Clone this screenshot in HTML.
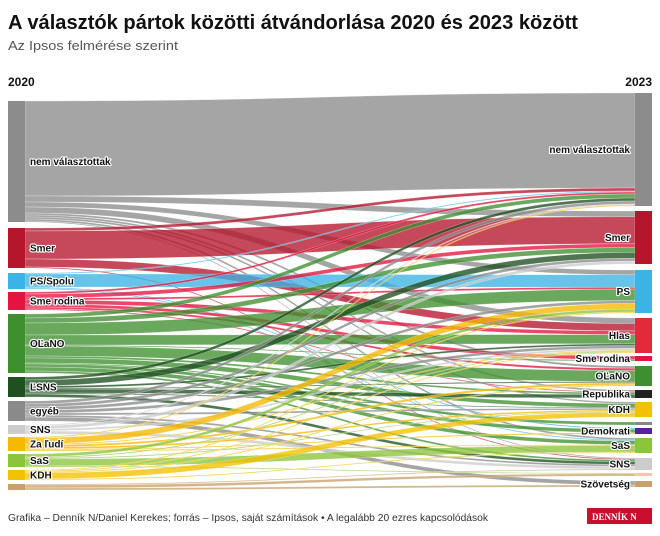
<!DOCTYPE html>
<html><head><meta charset="utf-8"><style>
body{margin:0;background:#fff;width:660px;height:536px;overflow:hidden}
svg{display:block;font-family:"Liberation Sans",sans-serif}
.lb{font-size:10px;font-weight:bold;fill:#111;stroke:#fff;stroke-width:2.2px;paint-order:stroke;stroke-linejoin:round}
</style></head><body>
<svg id="s" width="660" height="536" viewBox="0 0 660 536">
<text x="8" y="29" font-size="20" font-weight="bold" fill="#111" textLength="570" lengthAdjust="spacingAndGlyphs">A választók pártok közötti átvándorlása 2020 és 2023 között</text>
<text x="8" y="50" font-size="13" fill="#555" textLength="170" lengthAdjust="spacingAndGlyphs">Az Ipsos felmérése szerint</text>
<text x="8" y="86" font-size="12" font-weight="bold" fill="#111">2020</text>
<text x="652" y="86" font-size="12" font-weight="bold" fill="#111" text-anchor="end">2023</text>
<g id="flows"></g><g id="nodes"></g>
<text x="8" y="521" font-size="10" fill="#333" textLength="480" lengthAdjust="spacingAndGlyphs">Grafika – Denník N/Daniel Kerekes; forrás – Ipsos, saját számítások • A legalább 20 ezres kapcsolódások</text>
<rect x="587" y="508" width="65" height="16" fill="#c8102e"/>
<text x="592" y="520" font-size="9" font-weight="bold" fill="#fff" font-family="Liberation Serif,serif">DENNÍK N</text>
</svg>
<script>
const L=[["nem választottak",101,222,"#8c8c8c"],["Smer",228,268,"#b5162b"],["PS/Spolu",273,289,"#3bb4e5"],["Sme rodina",292,310,"#e4133f"],["OĽaNO",314,373,"#3f8f30"],["ĽSNS",377,397,"#1e5020"],["egyéb",401,421,"#8a8a8a"],["SNS",425,434,"#cccccc"],["Za ľudí",437,451,"#f6b800"],["SaS",454,467,"#8cc43c"],["KDH",470,480,"#f2c200"],["",484,490,"#c9a06a"]];
const R=[["nem választottak",93,206,"#8c8c8c"],["Smer",211,264,"#b5162b"],["PS",270,313,"#3bb4e5"],["Hlas",318,353,"#e32a3a"],["Sme rodina",356,361,"#e4133f"],["OĽaNO",366,386,"#3f8f30"],["Republika",390,398,"#222"],["KDH",402,417,"#f2c200"],["",422,425,"#888"],["Demokrati",428,434,"#5b1fa0"],["SaS",438,453,"#8cc43c"],["SNS",458,470,"#cccccc"],["",473,476,"#f4c8a8"],["Szövetség",481,487,"#c9a06a"]];
const F=[[0,0,95],[0,1,6],[0,2,5],[0,3,6],[0,5,2],[0,6,2],[0,7,2],[0,10,2],[0,11,1],
[1,0,3],[1,1,28],[1,3,8],[1,11,1],
[2,0,1],[2,2,13],[2,9,1],[2,10,1],
[3,0,2],[3,1,4],[3,2,2],[3,3,4],[3,4,3],[3,5,2],[3,6,1],
[4,0,4],[4,1,5],[4,2,12],[4,3,10],[4,4,1],[4,5,10],[4,6,2],[4,7,5],[4,8,1],[4,9,3],[4,10,4],[4,11,2],
[5,0,3],[5,1,6],[5,3,2],[5,5,1],[5,6,4],[5,7,1],[5,11,3],
[6,0,3],[6,1,3],[6,2,3],[6,3,3],[6,7,2],[6,11,2],[6,13,4],
[7,0,1],[7,1,3],[7,3,2],[7,11,3],
[8,0,1],[8,2,6],[8,3,1],[8,5,2],[8,7,2],[8,9,1],[8,10,1],
[9,2,3],[9,3,1],[9,7,1],[9,10,7],[9,12,1],
[10,2,1],[10,3,1],[10,5,1],[10,7,6],[10,10,1],
[11,11,1],[11,12,3],[11,13,2]];
const sumL=L.map(()=>0),sumR=R.map(()=>0);
F.forEach(f=>{sumL[f[0]]+=f[2];sumR[f[1]]+=f[2];});
const offL=L.map(n=>n[1]),offR=R.map(n=>n[1]);
const seg=F.map(()=>({}));
// source order by target
F.map((f,i)=>i).sort((a,b)=>F[a][0]-F[b][0]||F[a][1]-F[b][1]).forEach(i=>{const f=F[i],n=L[f[0]];const h=f[2]*(n[2]-n[1])/sumL[f[0]];seg[i].y0=offL[f[0]];seg[i].y1=offL[f[0]]+h;offL[f[0]]+=h;});
F.map((f,i)=>i).sort((a,b)=>F[a][1]-F[b][1]||F[a][0]-F[b][0]).forEach(i=>{const f=F[i],n=R[f[1]];const h=f[2]*(n[2]-n[1])/sumR[f[1]];seg[i].z0=offR[f[1]];seg[i].z1=offR[f[1]]+h;offR[f[1]]+=h;});
const x0=25,x1=635,m=(x0+x1)/2;let h="";
F.forEach((f,i)=>{const s=seg[i];
h+=`<path d="M${x0},${s.y0}C${m},${s.y0} ${m},${s.z0} ${x1},${s.z0}L${x1},${s.z1}C${m},${s.z1} ${m},${s.y1} ${x0},${s.y1}Z" fill="${L[f[0]][3]}" fill-opacity="0.78" stroke="#fff" stroke-width="0.4" stroke-opacity="0.6"/>`;});
document.getElementById("flows").innerHTML=h;
let n="";
L.forEach(d=>{n+=`<rect x="8" y="${d[1]}" width="17" height="${d[2]-d[1]}" fill="${d[3]}"/>`;if(d[0])n+=`<text class="lb" x="30" y="${(d[1]+d[2])/2+3.5}">${d[0]}</text>`;});
R.forEach(d=>{n+=`<rect x="635" y="${d[1]}" width="17" height="${d[2]-d[1]}" fill="${d[3]}"/>`;if(d[0])n+=`<text class="lb" x="630" text-anchor="end" y="${(d[1]+d[2])/2+3.5}">${d[0]}</text>`;});
document.getElementById("nodes").innerHTML=n;
</script>
</body></html>
